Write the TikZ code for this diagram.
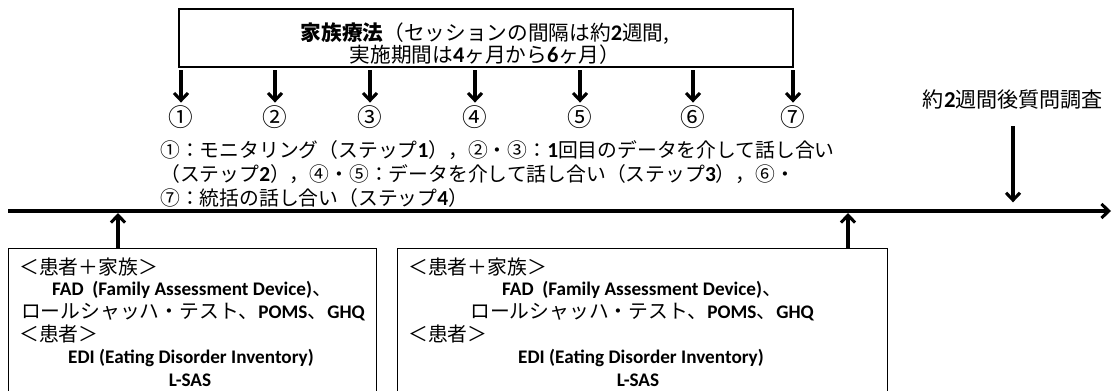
\documentclass[tikz,border=0pt]{standalone}
\usepackage{fontspec}
\setmainfont{Noto Sans CJK JP}
\newfontfamily\carlito{Carlito}[Scale=0.97, Numbers=Lining]
\newfontfamily\digitfont{Carlito}[Scale=1.08, Numbers=Lining]
\usetikzlibrary{arrows.meta}
\newcommand\en[1]{{\digitfont\bfseries #1}}
\newcommand\enb[1]{{\carlito\bfseries #1}}
\def\pxu{0.75pt}
\begin{document}
\begin{tikzpicture}[x=0.75pt,y=-0.75pt,
  jp/.style={font=\fontsize{14.85pt}{18pt}\selectfont, inner sep=0pt},
  ttl/.style={font=\fontsize{15.5pt}{16.5pt}\selectfont, align=center, inner sep=0pt},
  frame/.style={draw, line width=1pt, inner sep=0pt},
  thinframe/.style={draw, line width=0.8pt, inner sep=0pt, anchor=north west, minimum height=200*\pxu},
  arr/.style={line width=2.3pt, -{Straight Barb[length=5.5pt,width=10.5pt,line width=2.3pt]}},
  circ/.style={font=\fontsize{18.5pt}{19pt}\selectfont, inner sep=0pt}]
\useasboundingbox (0,0) rectangle (1112,391);
\clip (0,0) rectangle (1112,391);

% top box
\node[frame, minimum width=614*\pxu, minimum height=58*\pxu] (fam) at (486,38) {};
\node[ttl] (famtxt) at (485,44) {\textbf{家族療法}（セッションの間隔は約\en{2}週間,\\実施期間は\en{4}ヶ月から\en{6}ヶ月）};

% circled numbers and arrows
\foreach \x/\n/\s in {181/1/①,275/2/②,370/3/③,475/4/④,580/5/⑤,693/6/⑥,793/7/⑦}{
  \node[circ] (c\n) at (\x,117) {\s};
  \draw[arr, shorten <=2pt, shorten >=2pt] (fam.south -| c\n) -- (c\n.north);
}

% description
\node[jp, anchor=west] (d1) at (160,150) {①：モニタリング（ステップ\en{1}），②・③：\en{1}回目のデータを介して話し合い};
\node[jp, anchor=west] (d2) at (160,174) {（ステップ\en{2}），④・⑤：データを介して話し合い（ステップ\en{3}），⑥・};
\node[jp, anchor=west] (d3) at (160,198) {⑦：統括の話し合い（ステップ\en{4}）};

% timeline
\coordinate (t0) at (8,211);
\coordinate (t1) at (1111,211);
\draw[arr] (t0) -- (t1);

% post survey
\node[font=\fontsize{15.8pt}{18pt}\selectfont, inner sep=0pt] (post) at (1013,100) {約\en{2}週間後質問調査};
\coordinate (tpost) at (1013,211);
\draw[arr, shorten <=12pt, shorten >=6.5pt] (post.south) -- (tpost);

% bottom boxes
\node[thinframe, minimum width=368*\pxu] (lbox) at (8,248) {};
\node[thinframe, minimum width=490*\pxu] (rbox) at (397,248) {};
\coordinate (tl) at (118,211);
\coordinate (tr) at (848,211);
\draw[arr, shorten >=1.5pt] (lbox.north -| tl) -- (tl);
\draw[arr, shorten >=1.5pt] (rbox.north -| tr) -- (tr);

% left box text
\node[jp, anchor=west] (l1) at (19,267) {＜患者＋家族＞};
\node[jp] (l2) at (192,290) {\enb{FAD~ (Family Assessment Device)}、};
\node[jp] (l3) at (193,312) {ロールシャッハ・テスト、\enb{POMS}、\enb{GHQ}};
\node[jp, anchor=west] (l4) at (19,334) {＜患者＞};
\node[jp] (l5) at (191,358) {\enb{EDI (Eating Disorder Inventory)}};
\node[jp] (l6) at (190,380) {\enb{L-SAS}};

% right box text
\node[jp, anchor=west] (r1) at (408,267) {＜患者＋家族＞};
\node[jp] (r2) at (642,290) {\enb{FAD~ (Family Assessment Device)}、};
\node[jp] (r3) at (642,312) {ロールシャッハ・テスト、\enb{POMS}、\enb{GHQ}};
\node[jp, anchor=west] (r4) at (408,334) {＜患者＞};
\node[jp] (r5) at (641,358) {\enb{EDI (Eating Disorder Inventory)}};
\node[jp] (r6) at (638,380) {\enb{L-SAS}};
\end{tikzpicture}
\end{document}
